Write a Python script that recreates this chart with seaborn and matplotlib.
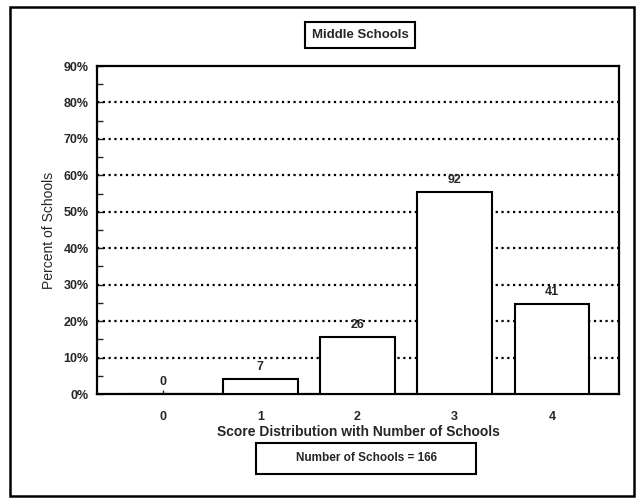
import numpy as np
import pandas as pd
import matplotlib
matplotlib.use("Agg")
import matplotlib.pyplot as plt
from matplotlib.patches import Rectangle
from matplotlib.ticker import MultipleLocator, PercentFormatter
import seaborn as sns

# data
scores = ["0", "1", "2", "3", "4"]
school_counts = [0, 7, 26, 92, 41]
total_schools = 166

percent = [c / total_schools * 100 for c in school_counts]
df = pd.DataFrame({"Score": scores, "Percent": percent})

sns.set_style("white")
plt.rcParams["font.family"] = ["Liberation Sans", "DejaVu Sans"]

fig = plt.figure(figsize=(6.41, 4.98), dpi=100)
ax = fig.add_axes([97 / 641, 104 / 498, 522 / 641, 328 / 498])

sns.barplot(data=df, x="Score", y="Percent", order=scores, color="white",
            edgecolor="black", linewidth=1.5, width=0.77, ax=ax, zorder=3)

# count labels above each bar
ax.bar_label(ax.containers[0], labels=[str(c) for c in school_counts],
             padding=4, fontsize=9, fontweight="bold")

ax.set_ylim(0, 90)
ax.set_xlim(-0.68, 4.69)
ax.yaxis.set_major_locator(MultipleLocator(10))
ax.yaxis.set_minor_locator(MultipleLocator(5))
ax.yaxis.set_major_formatter(PercentFormatter(decimals=0))
ax.tick_params(axis="y", which="major", direction="in", length=4, width=1,
               left=True, labelsize=9, pad=6)
ax.tick_params(axis="y", which="minor", direction="in", length=4, width=1, left=True)
ax.tick_params(axis="x", direction="in", length=3, width=1, bottom=True,
               labelsize=9, pad=12)
for lab in ax.get_yticklabels() + ax.get_xticklabels():
    lab.set_fontweight("bold")

# dotted gridlines
for yv in range(10, 90, 10):
    ax.axhline(yv, color="black", linestyle=(0, (1, 1.6)), linewidth=1.6, zorder=1)

for sp in ax.spines.values():
    sp.set_color("black")
    sp.set_linewidth(1.6)

ax.set_xlabel("Score Distribution with Number of Schools", fontsize=10,
              fontweight="bold", labelpad=2)
ax.set_ylabel("Percent of Schools", fontsize=10, labelpad=5)

# title box
fig.text(360 / 641, 1 - 35 / 498, "Middle Schools", ha="center", va="center",
         fontsize=9.5, fontweight="bold",
         bbox=dict(boxstyle="square,pad=0.5", facecolor="white",
                   edgecolor="black", linewidth=1.5))

# footer box
fig.text(366 / 641, 1 - 458 / 498, "Number of Schools = " + str(total_schools),
         ha="center", va="center", fontsize=8.5, fontweight="bold")
fig.patches.append(Rectangle((256 / 641, 1 - 474 / 498), 220 / 641, 31 / 498,
                             transform=fig.transFigure, fill=False,
                             edgecolor="black", linewidth=1.5))

# outer frame
fig.patches.append(Rectangle((10 / 641, 2 / 498), 624 / 641, 489 / 498,
                             transform=fig.transFigure, fill=False,
                             edgecolor="black", linewidth=1.8))

fig.savefig("out.png", dpi=100)
